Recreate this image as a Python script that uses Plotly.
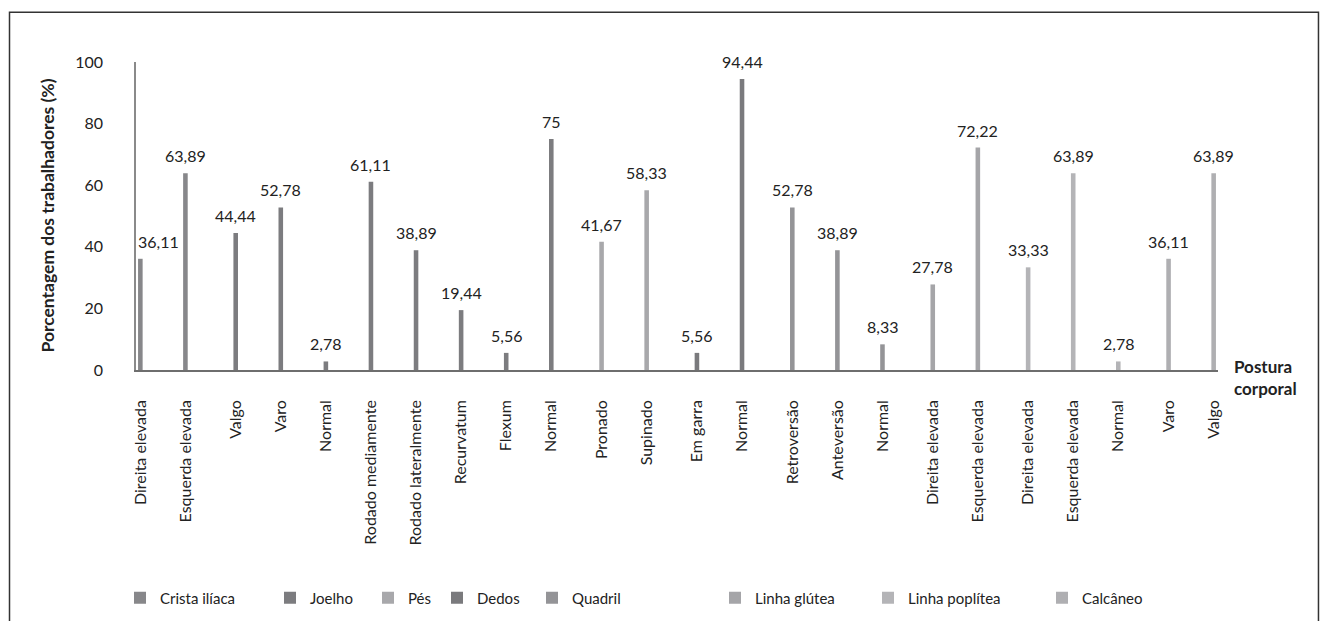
import plotly.graph_objects as go

# Postural findings per body region (% of workers)
regions = ["Crista ilíaca", "Joelho", "Pés", "Dedos", "Quadril",
           "Linha glútea", "Linha poplítea", "Calcâneo"]
region_colors = ["#87878a", "#7c7c7f", "#a8a8ab", "#7a7a7d", "#949497",
                 "#a5a5a8", "#b4b4b7", "#afafb2"]

categories = ["Direita elevada", "Esquerda elevada",
              "Valgo", "Varo", "Normal", "Rodado mediamente",
              "Rodado lateralmente", "Recurvatum", "Flexum", "Normal",
              "Pronado", "Supinado",
              "Em garra", "Normal",
              "Retroversão", "Anteversão", "Normal",
              "Direita elevada", "Esquerda elevada",
              "Direita elevada", "Esquerda elevada", "Normal",
              "Varo", "Valgo"]
category_region = (["Crista ilíaca"] * 2 + ["Joelho"] * 8 + ["Pés"] * 2 +
                   ["Dedos"] * 2 + ["Quadril"] * 3 + ["Linha glútea"] * 2 +
                   ["Linha poplítea"] * 3 + ["Calcâneo"] * 2)
percentages = [36.11, 63.89, 44.44, 52.78, 2.78, 61.11, 38.89, 19.44, 5.56,
               75, 41.67, 58.33, 5.56, 94.44, 52.78, 38.89, 8.33, 27.78,
               72.22, 33.33, 63.89, 2.78, 36.11, 63.89]

y_ticks = [0, 20, 40, 60, 80, 100]

# Legend item text positions (pixels from the left of the page)
legend_text_px = [160, 310, 408, 477, 572, 755, 908, 1082]

W, H = 1326, 621
L, R, T, B = 136.4, 108.4, 61.7, 251
plot_w = W - L - R
plot_h = H - T - B

# Each category reserves one slot per region (clustered layout)
n_series = len(regions)
CLUSTER = 0.923
slot = CLUSTER / n_series
bar_w = slot * 0.88
X_MIN = -0.5


def fmt(v):
    return f"{v:g}".replace(".", ",")


def px_to_paper_x(px):
    return (px - L) / plot_w


def px_to_paper_y(py):
    return (H - B - py) / plot_h


FONT = "Lato"
TXT = "#222222"
fig = go.Figure()

tickvals = []
value_labels = []
for s, (reg, col) in enumerate(zip(regions, region_colors)):
    idx = [i for i, r in enumerate(category_region) if r == reg]
    ys = [percentages[i] for i in idx]
    center_shift = (s - (n_series - 1) / 2) * slot
    for i, v in zip(idx, ys):
        pos = i + center_shift
        tickvals.append((pos, categories[i]))
        # keep labels clear of the value axis
        near_axis = pos - X_MIN < 0.45
        value_labels.append(dict(
            x=pos, y=v, xref="x", yref="y", text=fmt(v), showarrow=False,
            xanchor="left" if near_axis else "center", yanchor="bottom",
            xshift=-4 if near_axis else 0, yshift=6,
            font=dict(family=FONT, size=16, color=TXT)))
    fig.add_trace(go.Bar(
        x=idx, y=ys, name=reg,
        width=bar_w, offset=center_shift - bar_w / 2,
        marker=dict(color=col, line=dict(width=0)),
        legend="legend" if s == 0 else f"legend{s + 1}",
        hoverinfo="y",
    ))

tickvals.sort()

legends = {}
for s in range(n_series):
    key = "legend" if s == 0 else f"legend{s + 1}"
    legends[key] = dict(
        x=(legend_text_px[s] - 40) / W, xref="container", xanchor="left",
        y=1 - 598 / H, yref="container", yanchor="middle",
        orientation="h", bgcolor="rgba(0,0,0,0)", borderwidth=0,
        font=dict(family=FONT, size=15, color=TXT),
    )

# Outer frame around the figure
frame_left, frame_right, frame_top, frame_bottom = 10, 1318, 12, 660
shapes = [dict(type="rect", xref="paper", yref="paper",
               x0=px_to_paper_x(frame_left), x1=px_to_paper_x(frame_right),
               y0=px_to_paper_y(frame_bottom), y1=px_to_paper_y(frame_top),
               line=dict(color="#333333", width=1.5), fillcolor="rgba(0,0,0,0)",
               layer="below")]

annotations = value_labels + [
    dict(text="<b>Porcentagem dos trabalhadores (%)</b>", textangle=-90,
         xref="paper", yref="paper", x=px_to_paper_x(47), y=0.5,
         xanchor="center", yanchor="middle", showarrow=False,
         font=dict(family=FONT, size=17.5, color=TXT)),
    dict(text="<b>Postura<br>corporal</b>", xref="paper", yref="paper",
         x=px_to_paper_x(1232), y=px_to_paper_y(378), xanchor="left",
         yanchor="middle", align="left", showarrow=False,
         font=dict(family=FONT, size=17, color=TXT)),
]

fig.update_layout(
    width=W, height=H,
    margin=dict(l=L, r=R, t=T, b=B, autoexpand=False),
    paper_bgcolor="white", plot_bgcolor="white",
    barmode="overlay",
    showlegend=True, **legends,
    shapes=shapes, annotations=annotations,
    xaxis=dict(
        type="linear", range=[X_MIN, len(categories) - 0.5],
        tickmode="array", tickvals=[t[0] for t in tickvals],
        ticktext=[t[1] for t in tickvals], tickangle=-90,
        showgrid=False, zeroline=False, showline=True,
        linecolor="#6e6e6e", linewidth=1.5, ticks="",
        ticklabelstandoff=22,
        tickfont=dict(family=FONT, size=16, color=TXT),
    ),
    yaxis=dict(
        range=[0, 100], tickmode="array", tickvals=y_ticks,
        showgrid=False, zeroline=False, showline=True,
        linecolor="#8a8a8a", linewidth=1.5, ticks="",
        ticklabelstandoff=28,
        tickfont=dict(family=FONT, size=16, color=TXT),
    ),
)

fig.write_html("out.html")
